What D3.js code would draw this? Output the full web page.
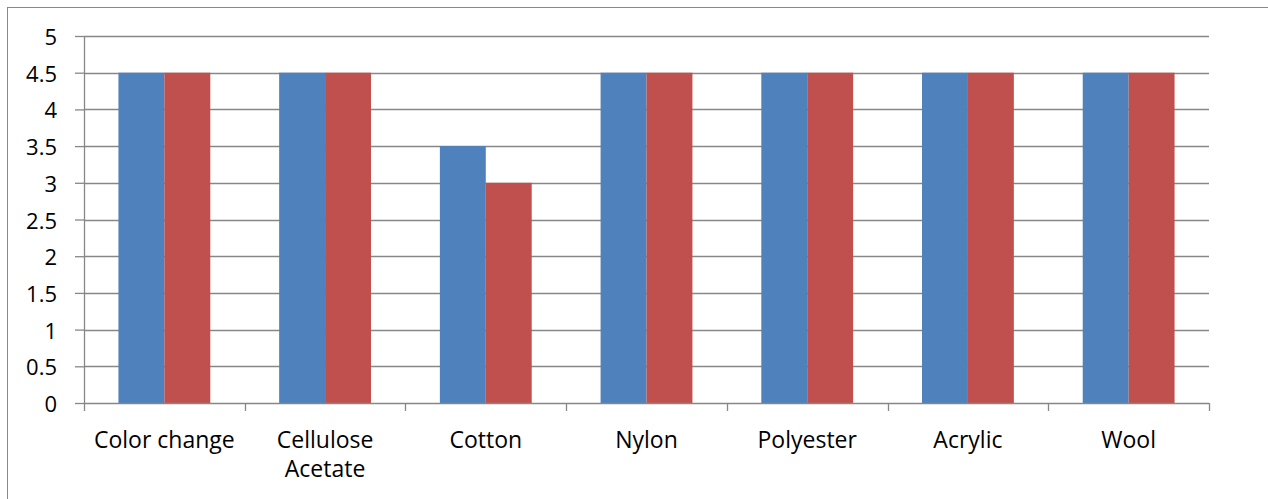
<!DOCTYPE html>
<html><head><meta charset="utf-8">
<script src="https://cdn.jsdelivr.net/npm/d3@7"></script>
<style>body{margin:0;background:#fff}svg{display:block}text{font-family:"Open Sans",sans-serif;fill:#000}</style>
</head><body>
<script>
const categories = ["Color change", "Cellulose Acetate", "Cotton", "Nylon", "Polyester", "Acrylic", "Wool"];
const categoryLines = [["Color change"], ["Cellulose", "Acetate"], ["Cotton"], ["Nylon"], ["Polyester"], ["Acrylic"], ["Wool"]];
const series1 = [4.5, 4.5, 3.5, 4.5, 4.5, 4.5, 4.5];
const series2 = [4.5, 4.5, 3, 4.5, 4.5, 4.5, 4.5];
const yTicks = [0, 0.5, 1, 1.5, 2, 2.5, 3, 3.5, 4, 4.5, 5];
const colors = ["#4F81BD", "#C0504D"];

(function () {
const W = 1268, H = 499;
const FONT = "'Open Sans', sans-serif";
const svg = d3.select("body").append("svg").attr("width", W).attr("height", H);
svg.append("rect").attr("x", 7.5).attr("y", 7.5).attr("width", W + 10).attr("height", H + 10)
  .attr("fill", "none").attr("stroke", "#898989").attr("stroke-width", 1);

const pL = 84, pR = 1209, pT = 36, pB = 403;
const x = d3.scaleBand().domain(categories).range([pL, pR]).paddingInner(0).paddingOuter(0);
const y = d3.scaleLinear().domain([0, 5]).range([pB, pT]);
const inner = d3.scaleBand().domain([0, 1]).range([0, x.bandwidth()]).paddingInner(0).paddingOuter(0.75);

// gridlines
svg.append("g").selectAll("line").data(yTicks.filter(d => d > 0)).join("line")
  .attr("x1", pL).attr("x2", pR).attr("y1", d => Math.round(y(d)) + 0.5).attr("y2", d => Math.round(y(d)) + 0.5)
  .attr("stroke", "#878787").attr("stroke-width", 1.3);

// bars
const g = svg.append("g");
[series1, series2].forEach((s, si) => {
  g.selectAll(null).data(s).join("rect")
    .attr("x", (d, i) => x(categories[i]) + inner(si))
    .attr("width", inner.bandwidth())
    .attr("y", d => y(d))
    .attr("height", d => y(0) - y(d))
    .attr("fill", colors[si]);
});

// y axis
const yAxis = svg.append("g").attr("transform", `translate(${pL},0)`)
  .call(d3.axisLeft(y).tickValues(yTicks).tickSize(9).tickPadding(18).tickFormat(d3.format("")));
yAxis.select(".domain").attr("stroke", "#878787").attr("stroke-width", 1.3).attr("d", `M0.5,${pT}V${pB}`);
yAxis.selectAll(".tick line").attr("stroke", "#878787").attr("stroke-width", 1.3);
yAxis.selectAll(".tick text").attr("font-size", 22).attr("font-family", FONT).attr("fill", "#000")
  .attr("y", 1.5);

// x axis
const xAxisG = svg.append("g");
xAxisG.append("line").attr("x1", pL).attr("x2", pR).attr("y1", pB + 0.5).attr("y2", pB + 0.5)
  .attr("stroke", "#878787").attr("stroke-width", 1.3);
const bounds = categories.map(c => x(c)).concat([pR]);
xAxisG.selectAll(".xt").data(bounds).join("line")
  .attr("x1", d => Math.round(d) + 0.5).attr("x2", d => Math.round(d) + 0.5)
  .attr("y1", pB).attr("y2", pB + 8).attr("stroke", "#878787").attr("stroke-width", 1.3);
const lbl = xAxisG.selectAll(".xl").data(categories).join("text")
  .attr("text-anchor", "middle").attr("font-size", 23).attr("font-family", FONT)
  .attr("transform", c => `translate(${x(c) + x.bandwidth() / 2},448)`);
lbl.selectAll("tspan").data((c, i) => categoryLines[i]).join("tspan")
  .attr("x", 0).attr("dy", (d, j) => j === 0 ? 0 : 29).text(d => d);
})();
</script>
</body></html>
